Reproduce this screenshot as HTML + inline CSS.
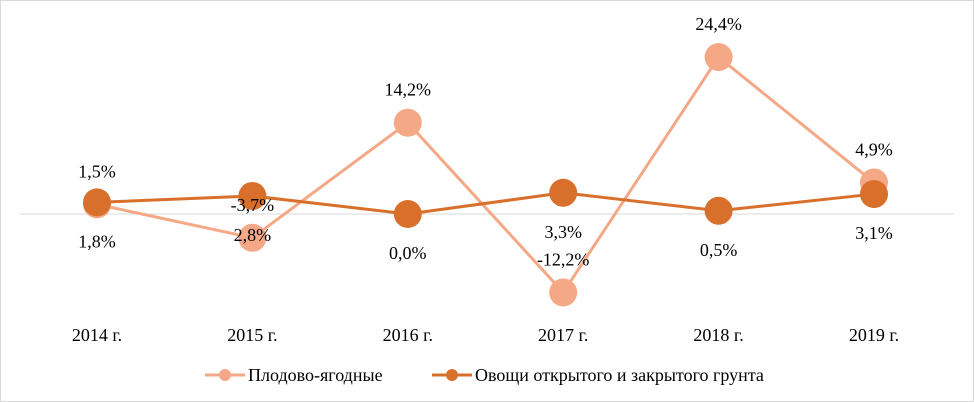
<!DOCTYPE html>
<html><head><meta charset="utf-8"><style>
body{margin:0;background:#fff}
svg{display:block;font-family:"Liberation Serif",serif}
</style></head><body>
<svg width="974" height="402" viewBox="0 0 974 402">
<rect x="0.5" y="0.5" width="973" height="401" fill="#fff" stroke="#d9d9d9"/>
<g id="g"></g>
</svg>
<script>
const categories=["2014 г.","2015 г.","2016 г.","2017 г.","2018 г.","2019 г."];
const fruitValues=[1.5,-3.7,14.2,-12.2,24.4,4.9];
const vegValues=[1.8,2.8,0.0,3.3,0.5,3.1];
const seriesNames=["Плодово-ягодные","Овощи открытого и закрытого грунта"];
const fruitColor="#F4A886", vegColor="#D8702C";
const NS="http://www.w3.org/2000/svg";
const g=document.getElementById('g');
const x=i=>97+i*155.4;
const y=v=>214-v*6.43;
function el(t,a){const e=document.createElementNS(NS,t);for(const k in a)e.setAttribute(k,a[k]);g.appendChild(e);return e;}
const fmt=v=>v.toFixed(1).replace('.',',')+'%';
let ax=el('line',{x1:20,x2:954,y1:y(0),y2:y(0),stroke:'#d9d9d9','stroke-width':1});


categories.forEach((c,i)=>{const t=el('text',{x:x(i),y:341,'text-anchor':'middle','font-size':18,fill:'#000'});t.textContent=c;

});
function series(vals,color,name,labOff){
 const p=el('polyline',{points:vals.map((v,i)=>x(i)+','+y(v)).join(' '),fill:'none',stroke:color,'stroke-width':3});
 
 
 vals.forEach((v,i)=>{const c=el('circle',{cx:x(i),cy:y(v),r:14,fill:color});
 
 });
 return ()=>vals.forEach((v,i)=>{const t=el('text',{x:x(i),y:y(v)+labOff,'text-anchor':'middle','font-size':18,fill:'#000'});t.textContent=fmt(v);
 
 });
}
const lf=series(fruitValues,fruitColor,'fruit-series',-27);
const lv=series(vegValues,vegColor,'vegetable-series',45);
lf();lv();
[[fruitColor,205,seriesNames[0]],[vegColor,432,seriesNames[1]]].forEach(([col,lx,nm],k)=>{
 const l=el('line',{x1:lx,x2:lx+40,y1:375,y2:375,stroke:col,'stroke-width':3});
 
 
 const c=el('circle',{cx:lx+20,cy:375,r:6,fill:col});
 
 
 const t=el('text',{x:lx+43,y:381,'font-size':18,fill:'#000'});t.textContent=nm;
 
 
});
</script>
</body></html>
